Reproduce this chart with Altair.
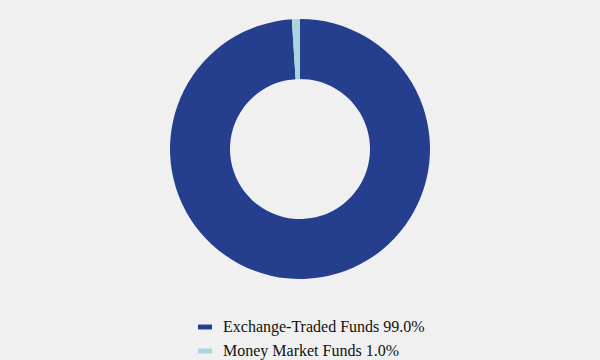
import altair as alt
import pandas as pd

categories = ["Exchange-Traded Funds", "Money Market Funds"]
values = [99.0, 1.0]
colors = ["#253f8e", "#a8d5df"]

df = pd.DataFrame({"cat": categories, "value": values})
df["label"] = [f"{c} {v:.1f}%" for c, v in zip(categories, values)]
df["order"] = list(range(len(categories)))

labels = df["label"].tolist()

chart = alt.Chart(df).mark_arc(outerRadius=130, innerRadius=70, stroke=None).encode(
    theta=alt.Theta("value:Q", stack=True),
    order=alt.Order("order:Q"),
    x=alt.value(300),
    y=alt.value(149),
    color=alt.Color(
        "label:N",
        scale=alt.Scale(domain=labels, range=colors),
        sort=labels,
        legend=alt.Legend(
            title=None,
            orient="none",
            legendX=197,
            legendY=319,
            direction="vertical",
            symbolType="M-1,-0.35H1V0.35H-1Z",
            symbolSize=196,
            symbolStrokeWidth=0,
            labelFont="Liberation Serif",
            labelFontSize=16,
            labelColor="#111111",
            labelLimit=500,
            rowPadding=8,
            labelOffset=10,
        ),
    ),
).properties(
    width=600,
    height=360,
    background="#f0f0f0",
    padding=0,
    autosize=alt.AutoSizeParams(type="none"),
).configure_view(stroke=None)

chart.save("out.html", embed_options={"renderer": "svg", "actions": False})
